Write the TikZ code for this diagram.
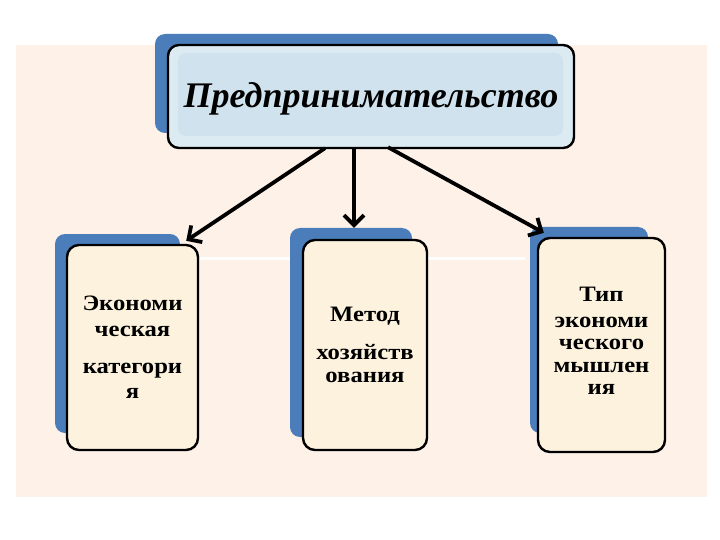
\documentclass[tikz,border=0pt]{standalone}
\usepackage{fontspec}
\setmainfont{Liberation Serif}
\newfontfamily\widefont{Liberation Serif}[FakeStretch=1.12]
\usetikzlibrary{arrows.meta}
\definecolor{peach}{HTML}{FDF1E8}
\definecolor{shadowblue}{HTML}{4A7DBA}
\definecolor{mainfill}{HTML}{DCEAF2}
\definecolor{maininner}{HTML}{CFE2ED}
\definecolor{cream}{HTML}{FCF2DE}
\tikzset{
  shadowbox/.style={fill=shadowblue, rounded corners=10pt},
  mainbox/.style={draw=black, line width=2.4pt, fill=mainfill, rounded corners=11pt, inner sep=0pt},
  smallbox/.style={draw=black, line width=2.4pt, fill=cream, rounded corners=12pt, inner sep=0pt, align=center,
     font=\widefont\bfseries\fontsize{22}{22}\selectfont},
  arr/.style={line width=3.8pt, -{Straight Barb[length=10pt,width=20pt,line width=3.8pt]}}
}
\begin{document}
\begin{tikzpicture}[x=1pt,y=-1pt]
\useasboundingbox (0,0) rectangle (720,540);
\fill[white] (0,0) rectangle (720,540);
\fill[peach] (16,45) rectangle (707,497);
\draw[white, line width=3pt] (200,258) -- (525,258);
% shadows
\fill[shadowbox] (155,34) rectangle (558,133);
\fill[shadowbox] (55,234) rectangle (180,433);
\fill[shadowbox] (290,228) rectangle (412,437);
\fill[shadowbox] (530,227) rectangle (648,433);
% main box
\node[mainbox, minimum width=406pt, minimum height=103pt] (main) at (371,96.5) {};
\fill[maininner, rounded corners=8pt] (178,53) rectangle (563,136);
\node[font=\bfseries\itshape\fontsize{36}{36}\selectfont] (title) at ([yshift=-2pt]main.center) {Предпринимательство};
% small boxes
\node[smallbox, minimum width=131pt, minimum height=205pt] (b1) at (132.5,347.5)
  {Экономи\\[4pt]ческая\\[15pt]категори\\[3pt]я};
\node[smallbox, minimum width=124pt, minimum height=210pt] (b2) at (365,345)
  {Метод\\[16pt]хозяйств\\[1pt]ования};
\node[smallbox, minimum width=127pt, minimum height=214pt] (b3) at (601.5,345) {};
\node[font=\widefont\bfseries\fontsize{22}{22}\selectfont, align=center, inner sep=0pt] (t3) at ([yshift=4pt]b3.center)
  {Тип\\[4pt]экономи\\ческого\\[1pt]мышлен\\ия};
% arrows
\draw[arr] ([xshift=-46pt,yshift=1pt]main.south) -- ([xshift=-13pt,yshift=3pt]b1.north east);
\draw[arr] ([xshift=-17pt]main.south) -- ([xshift=-11pt,yshift=11pt]b2.north);
\draw[arr] ([xshift=17pt,yshift=2pt]main.south) -- ([xshift=7pt,yshift=4pt]b3.north west);
\end{tikzpicture}
\end{document}
